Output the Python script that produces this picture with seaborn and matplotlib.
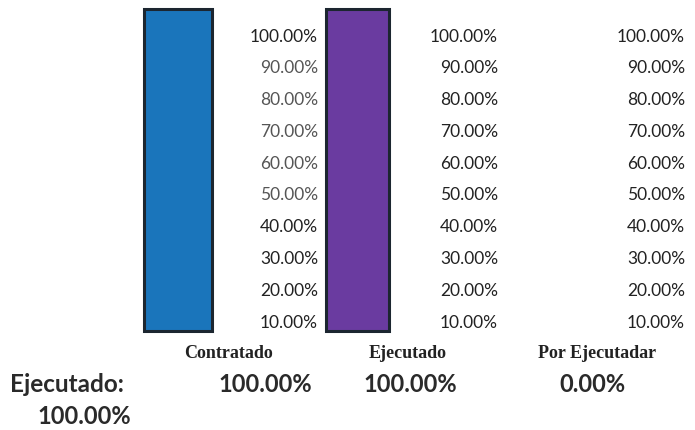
import matplotlib
matplotlib.use('Agg')
import matplotlib.pyplot as plt
import seaborn as sns
import pandas as pd

# Datos del termómetro
categorias = ['Contratado', 'Ejecutado', 'Por Ejecutadar']
valores = [100.0, 100.0, 0.0]
colores = ['#1a75bb', '#6a3ba0', '#9a9a9a']
marcas = [10, 20, 30, 40, 50, 60, 70, 80, 90, 100]
etiquetas_marcas = [f'{m:.2f}%' for m in marcas]
ejecutado_total = 100.0

sns.set_theme(style='white')
plt.rcParams['font.family'] = ['Lato', 'DejaVu Sans']

W, H = 695, 431
fig = plt.figure(figsize=(W / 100, H / 100), dpi=100)

# posiciones de cada termómetro en pixeles (izq, der) y derecha de etiquetas
barras_px = [(143, 213), (325, 390), (508, 573)]
etiquetas_der_px = [318, 498, 685]
top_px, bottom_px = 10, 332
centros_cat_px = [228, 408, 597]
centros_val_px = [265, 410, 592]

for i, cat in enumerate(categorias):
    x0, x1 = barras_px[i]
    ax = fig.add_axes([x0 / W, 1 - bottom_px / H, (x1 - x0) / W, (bottom_px - top_px) / H])
    df = pd.DataFrame({'cat': [cat], 'valor': [valores[i]]})
    if valores[i] > 0:
        sns.barplot(data=df, x='cat', y='valor', ax=ax, color=colores[i],
                    edgecolor='#1c2630', linewidth=2.2, width=0.96, saturation=1)
        for p in ax.patches:
            p.set_clip_on(False)
    ax.set_xlim(-0.5, 0.5)
    ax.set_ylim(0, 100)
    ax.set_xticks([])
    ax.set_yticks([])
    ax.set_xlabel('')
    ax.set_ylabel('')
    for s in ax.spines.values():
        s.set_visible(False)
    ax.patch.set_alpha(0)

    # escala de etiquetas a la derecha
    ax2 = ax.twinx()
    ax2.set_ylim(6.54, 107.9)
    ax2.set_yticks(marcas)
    pad_pt = (etiquetas_der_px[i] - x1) * 0.72
    ax2.set_yticklabels(etiquetas_marcas, ha='right', fontsize=12.5, color='#222222')
    ax2.tick_params(axis='y', length=0, pad=pad_pt)
    if i == 0:
        for t, m in zip(ax2.get_yticklabels(), marcas):
            if 50 <= m <= 90:
                t.set_color('#555555')
    for s in ax2.spines.values():
        s.set_visible(False)

    fig.text(centros_cat_px[i] / W, 1 - 354 / H, cat, ha='center', va='center',
             fontsize=13, fontweight='bold', family='Liberation Serif', color='#222222')
    fig.text(centros_val_px[i] / W, 1 - 385 / H, f'{valores[i]:.2f}%', ha='center', va='center',
             fontsize=17, fontweight='bold', color='#2a2a2a')

fig.text(10 / W, 1 - 385 / H, 'Ejecutado:', ha='left', va='center',
         fontsize=17.5, fontweight='bold', color='#2a2a2a')
fig.text(84 / W, 1 - 417 / H, f'{ejecutado_total:.2f}%', ha='center', va='center',
         fontsize=17, fontweight='bold', color='#2a2a2a')

fig.savefig('out.png', dpi=100)
